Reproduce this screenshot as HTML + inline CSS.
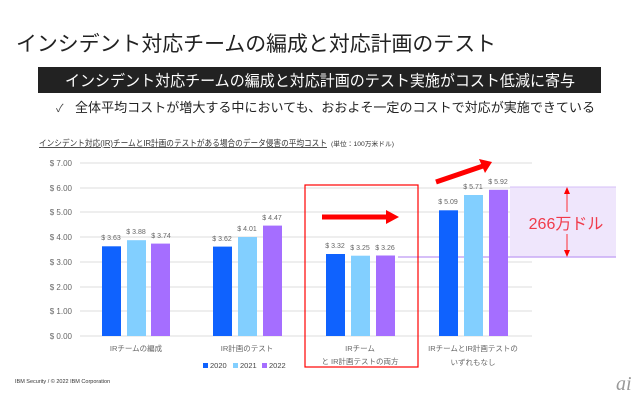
<!DOCTYPE html><html><head><meta charset="utf-8"><style>
body{margin:0;width:640px;height:400px;background:#fff;overflow:hidden;font-family:"Liberation Sans","Noto Sans CJK JP",sans-serif;}
</style></head><body>
<svg width="640" height="400" xmlns="http://www.w3.org/2000/svg" font-family="Liberation Sans, Noto Sans CJK JP, sans-serif">
<text x="16" y="51" font-size="21" fill="#222" textLength="480" lengthAdjust="spacingAndGlyphs">インシデント対応チームの編成と対応計画のテスト</text>
<rect x="38" y="67" width="563" height="26" fill="#222"/>
<text x="320" y="86" font-size="15.5" fill="#fff" text-anchor="middle" textLength="510" lengthAdjust="spacingAndGlyphs">インシデント対応チームの編成と対応計画のテスト実施がコスト低減に寄与</text>
<text x="56" y="112" font-size="11" fill="#444">✓</text>
<text x="75" y="112" font-size="13" fill="#222" textLength="520" lengthAdjust="spacingAndGlyphs">全体平均コストが増大する中においても、おおよそ一定のコストで対応が実施できている</text>
<text x="39" y="146" font-size="8.5" fill="#333" text-decoration="underline" textLength="288" lengthAdjust="spacingAndGlyphs">インシデント対応(IR)チームとIR計画のテストがある場合のデータ侵害の平均コスト</text>
<text x="331" y="146" font-size="6.5" fill="#333" textLength="63" lengthAdjust="spacingAndGlyphs">(単位：100万米ドル)</text>
<g stroke="#ddd" stroke-width="1">
<line x1="80" y1="163" x2="532" y2="163"/><line x1="80" y1="188" x2="532" y2="188"/><line x1="80" y1="212" x2="532" y2="212"/><line x1="80" y1="237" x2="532" y2="237"/><line x1="80" y1="262" x2="532" y2="262"/><line x1="80" y1="287" x2="532" y2="287"/><line x1="80" y1="311" x2="532" y2="311"/><line x1="80" y1="336" x2="532" y2="336"/>
</g>
<g font-size="8" fill="#666" text-anchor="end">
<text x="72" y="166">$ 7.00</text><text x="72" y="191">$ 6.00</text><text x="72" y="215">$ 5.00</text><text x="72" y="240">$ 4.00</text><text x="72" y="265">$ 3.00</text><text x="72" y="290">$ 2.00</text><text x="72" y="314">$ 1.00</text><text x="72" y="339">$ 0.00</text>
</g>
<rect x="510" y="187" width="106" height="70" fill="#efe6fc"/>
<line x1="510" y1="187" x2="616" y2="187" stroke="#d6bff7"/>
<line x1="398" y1="257" x2="616" y2="257" stroke="#c9aaf5" stroke-width="1.5"/>
<g>
<rect x="102" y="246.3" width="19" height="89.7" fill="#0f62fe"/><rect x="127" y="240.2" width="19" height="95.8" fill="#82cfff"/><rect x="151" y="243.6" width="19" height="92.4" fill="#a56eff"/>
<rect x="213" y="246.6" width="19" height="89.4" fill="#0f62fe"/><rect x="238" y="237" width="19" height="99" fill="#82cfff"/><rect x="263" y="225.6" width="19" height="110.4" fill="#a56eff"/>
<rect x="326" y="254" width="19" height="82" fill="#0f62fe"/><rect x="351" y="255.7" width="19" height="80.3" fill="#82cfff"/><rect x="376" y="255.5" width="19" height="80.5" fill="#a56eff"/>
<rect x="439" y="210.3" width="19" height="125.7" fill="#0f62fe"/><rect x="464" y="195" width="19" height="141" fill="#82cfff"/><rect x="489" y="189.8" width="19" height="146.2" fill="#a56eff"/>
</g>
<g font-size="7" fill="#666" text-anchor="middle">
<text x="111" y="240">$ 3.63</text><text x="136" y="234">$ 3.88</text><text x="161" y="238">$ 3.74</text>
<text x="222" y="241">$ 3.62</text><text x="247" y="231">$ 4.01</text><text x="272" y="220">$ 4.47</text>
<text x="335" y="248">$ 3.32</text><text x="360" y="250">$ 3.25</text><text x="385" y="250">$ 3.26</text>
<text x="448" y="204">$ 5.09</text><text x="473" y="189">$ 5.71</text><text x="498" y="184">$ 5.92</text>
</g>
<g font-size="7.5" fill="#666" text-anchor="middle">
<text x="136" y="351">IRチームの編成</text><text x="247" y="351">IR計画のテスト</text><text x="360" y="351">IRチーム</text><text x="360" y="364">と IR計画テストの両方</text><text x="473" y="351">IRチームとIR計画テストの</text><text x="473" y="365">いずれもなし</text>
</g>
<g font-size="7.5" fill="#444">
<rect x="203" y="363" width="5" height="5" fill="#0f62fe"/><text x="210" y="368">2020</text>
<rect x="233" y="363" width="5" height="5" fill="#82cfff"/><text x="240" y="368">2021</text>
<rect x="262" y="363" width="5" height="5" fill="#a56eff"/><text x="269" y="368">2022</text>
</g>
<rect x="305" y="185" width="113" height="182" fill="none" stroke="#f00" stroke-width="1.2"/>
<line x1="322" y1="217" x2="388" y2="217" stroke="#f00" stroke-width="5"/><polygon points="386,210 399,217 386,224" fill="#f00"/>
<line x1="436" y1="182" x2="483" y2="166" stroke="#f00" stroke-width="5"/><polygon points="479,159 492,162 485,173" fill="#f00"/>
<line x1="567" y1="192" x2="567" y2="255" stroke="#f00" stroke-width="0.8"/>
<polygon points="564,194 567,187 570,194" fill="#f00"/><polygon points="564,250 567,257 570,250" fill="#f00"/>
<rect x="528" y="212" width="76" height="22" fill="#efe6fc"/>
<text x="566" y="229" font-size="16" fill="#f03a4a" text-anchor="middle">266万ドル</text>
<text x="15" y="383" font-size="5.5" fill="#333">IBM Security / © 2022 IBM Corporation</text>
<text x="616" y="390" font-size="20" font-style="italic" font-family="Liberation Serif, serif" fill="#999">ai</text>
</svg>
</body></html>
